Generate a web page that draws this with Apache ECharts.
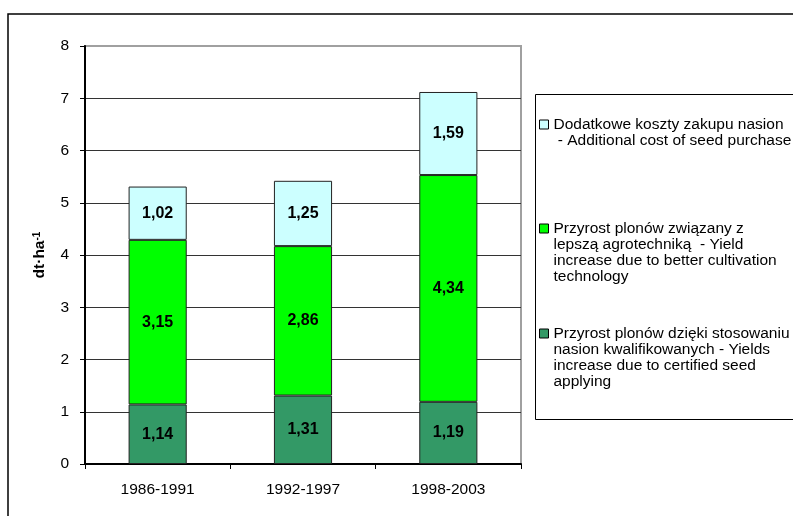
<!DOCTYPE html>
<html>
<head>
<meta charset="utf-8">
<script src="https://cdn.jsdelivr.net/npm/echarts@6/dist/echarts.min.js"></script>
<style>
  html, body { margin: 0; padding: 0; background: #fff; }
  #chart { width: 793px; height: 516px; }
</style>
</head>
<body>
<div id="chart"></div>
<script>
// Periods on the category axis
const periods = ['1986-1991', '1992-1997', '1998-2003'];

// Stacked components of the yield increase, dt/ha (bottom to top)
const certifiedSeed = [1.14, 1.31, 1.19];
const betterTechnology = [3.15, 2.86, 4.34];
const seedCost = [1.02, 1.25, 1.59];

// Series names as printed in the legend
const nameCertified = 'Przyrost plonów dzięki stosowaniu\nnasion kwalifikowanych - Yields\nincrease due to certified seed\napplying';
const nameTechnology = 'Przyrost plonów związany z\nlepszą agrotechniką  - Yield\nincrease due to better cultivation\ntechnology';
const nameCost = 'Dodatkowe koszty zakupu nasion\n - Additional cost of seed purchase';

// Y axis range
const yMin = 0, yMax = 8, yStep = 1;

const FONT = '"Liberation Sans", Arial, sans-serif';
const LINE_H = 16;

const chart = echarts.init(document.getElementById('chart'), null, { renderer: 'canvas' });

// Legend marker: a square level with the first text line of a multi-line entry
function markerFor(lines) {
  const h = lines * LINE_H;
  return 'path://M0,0M0,3.5H9V12.5H0ZM9,' + h;
}

function legendBlock(name, top, lines) {
  return {
    data: [name],
    orient: 'vertical',
    left: 539,
    top: top,
    padding: 0,
    itemWidth: 9,
    itemHeight: lines * LINE_H,
    icon: markerFor(lines),
    selectedMode: false,
    itemStyle: { borderColor: '#000', borderWidth: 1 },
    textStyle: { fontFamily: FONT, fontSize: 15.5, color: '#000', lineHeight: LINE_H }
  };
}

function valueLabel() {
  return {
    show: true,
    position: 'inside',
    fontFamily: FONT,
    fontSize: 16,
    fontWeight: 'bold',
    color: '#000',
    formatter: p => p.value.toFixed(2).replace('.', ',')
  };
}

function barSeries(name, data, color) {
  return {
    name: name,
    type: 'bar',
    stack: 'total',
    data: data,
    barWidth: '40%',
    itemStyle: { color: color, borderColor: '#222', borderWidth: 1 },
    label: valueLabel()
  };
}

const gridColors = [];
for (let v = yMin; v <= yMax; v += yStep) gridColors.push(v === yMax ? '#a0a0a0' : '#333');

chart.setOption({
  animation: false,
  backgroundColor: '#fff',
  textStyle: { fontFamily: FONT },
  grid: {
    left: 85, top: 46, width: 436, height: 418,
    show: true, borderColor: '#a0a0a0', borderWidth: 2, backgroundColor: 'transparent'
  },
  legend: [
    legendBlock(nameCost, 116, 2),
    legendBlock(nameTechnology, 220, 4),
    legendBlock(nameCertified, 325, 4)
  ],
  xAxis: {
    type: 'category',
    data: periods,
    axisLine: { lineStyle: { color: '#000', width: 2 } },
    axisTick: { show: true, length: 5, lineStyle: { color: '#000', width: 1 } },
    axisLabel: { fontFamily: FONT, fontSize: 15.5, color: '#000', margin: 18 }
  },
  yAxis: {
    type: 'value',
    min: yMin, max: yMax, interval: yStep,
    name: '{a|dt·ha}{s|-1}',
    nameLocation: 'middle',
    nameGap: 37,
    nameRotate: 90,
    nameTextStyle: {
      rich: {
        a: { fontFamily: FONT, fontSize: 15.5, fontWeight: 'bold', color: '#000' },
        s: { fontFamily: FONT, fontSize: 10, fontWeight: 'bold', color: '#000', verticalAlign: 'top', padding: [0, 0, 6, 0] }
      }
    },
    axisLine: { show: true, lineStyle: { color: '#000', width: 2 } },
    axisTick: { show: true, length: 5, lineStyle: { color: '#000', width: 1 } },
    axisLabel: { fontFamily: FONT, fontSize: 15.5, color: '#000', margin: 16 },
    splitLine: { show: true, lineStyle: { color: gridColors, width: 1 } }
  },
  series: [
    barSeries(nameCertified, certifiedSeed, '#339966'),
    barSeries(nameTechnology, betterTechnology, '#00ff00'),
    barSeries(nameCost, seedCost, '#ccffff')
  ],
  graphic: [
    // outer chart frame
    { type: 'rect', shape: { x: 8, y: 14, width: 900, height: 600 },
      style: { fill: 'none', stroke: '#000', lineWidth: 1.5 }, silent: true, z: -1 },
    // legend frame
    { type: 'rect', shape: { x: 535.5, y: 94.5, width: 400, height: 325 },
      style: { fill: 'none', stroke: '#000', lineWidth: 1 }, silent: true, z: -1 }
  ]
});
</script>
</body>
</html>
